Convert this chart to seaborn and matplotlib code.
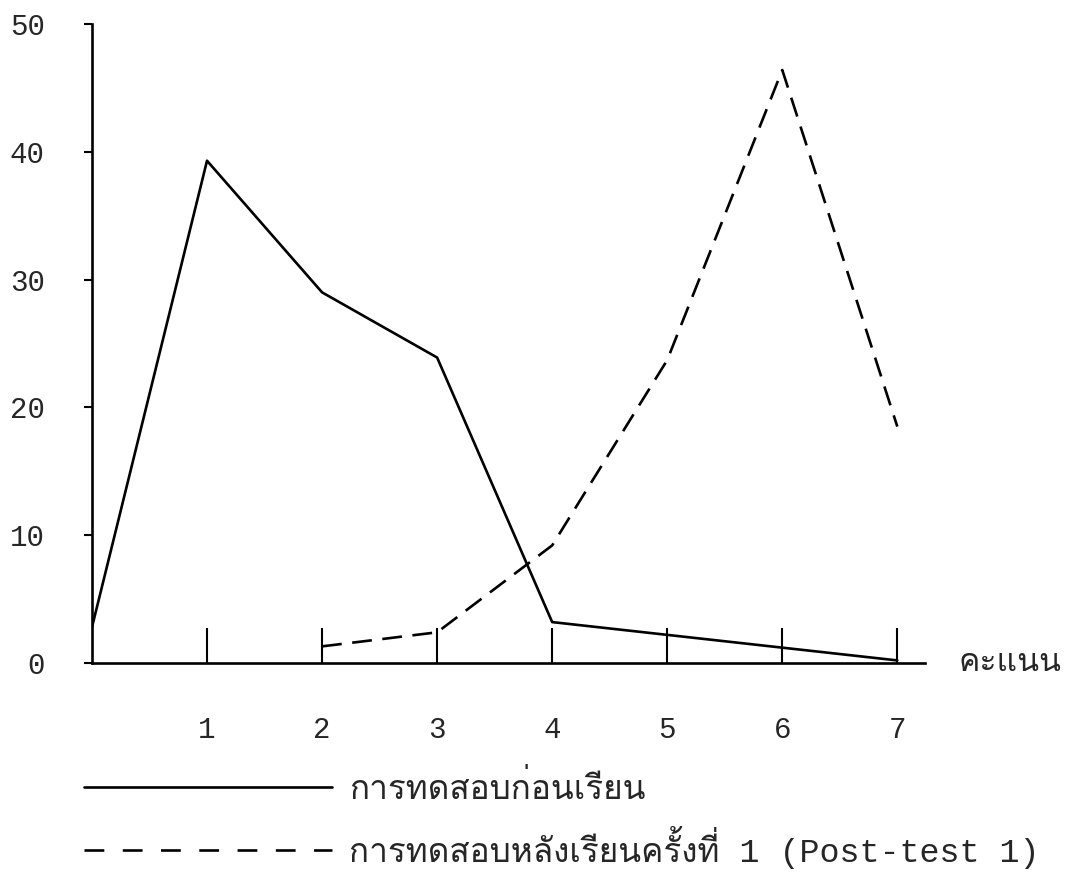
import matplotlib
matplotlib.use("Agg")
import matplotlib.pyplot as plt
from matplotlib.lines import Line2D
import pandas as pd
import seaborn as sns

# ---------------------------------------------------------------------
# Data
# ---------------------------------------------------------------------
scores = [0, 1, 2, 3, 4, 5, 6, 7]
pretest = [2.8, 39.3, 29.0, 23.9, 3.2, 2.2, 1.2, 0.2]

post_scores = [2, 3, 4, 5, 6, 7]
posttest1 = [1.3, 2.4, 9.2, 23.7, 46.4, 18.5]

pre_label = "การทดสอบก่อนเรียน"
post_label = "การทดสอบหลังเรียนครั้งที่ 1 (Post-test 1)"
x_label = "คะแนน"
x_ticks = [1, 2, 3, 4, 5, 6, 7]
y_ticks = [0, 10, 20, 30, 40, 50]

# ---------------------------------------------------------------------
# Style
# ---------------------------------------------------------------------
sns.set_style("white")
fam = ["Liberation Mono", "Tlwg Typo", "Tlwg Mono", "Loma", "DejaVu Sans"]
plt.rcParams["font.family"] = fam
FS = 21
LEG_FS = 24
LW = 1.9

pre_df = pd.DataFrame({"score": scores, "pct": pretest})
post_df = pd.DataFrame({"score": post_scores, "pct": posttest1})

fig = plt.figure(figsize=(10.72, 8.72), dpi=100)
ax = fig.add_axes([0.0858, 0.2397, 0.777, 0.7328])

sns.lineplot(data=pre_df, x="score", y="pct", ax=ax, color="black", lw=LW)
sns.lineplot(data=post_df, x="score", y="pct", ax=ax, color="black", lw=LW,
             linestyle=(0, (7.5, 4)))

ax.set_xlim(0, 7.24)
ax.set_ylim(0, 50)
ax.set_xticks(x_ticks)
ax.set_yticks(y_ticks)
ax.set_xlabel("")
ax.set_ylabel("")

for side in ["top", "right"]:
    ax.spines[side].set_visible(False)
for side in ["left", "bottom"]:
    ax.spines[side].set_color("black")
    ax.spines[side].set_linewidth(LW)

ax.tick_params(axis="x", bottom=True, direction="in", length=25, width=1.5,
               pad=38, labelsize=FS, color="black")
ax.tick_params(axis="y", left=True, direction="out", length=6, width=1.5,
               pad=28, labelsize=FS, color="black")

ax.text(1.04, 0.0, x_label, transform=ax.transAxes, fontsize=FS + 2,
        va="center", ha="left", family=fam)

handles = [
    Line2D([], [], color="black", lw=LW),
    Line2D([], [], color="black", lw=LW, linestyle=(0, (7.5, 7))),
]
fig.legend(handles, [pre_label, post_label], loc="lower left",
           bbox_to_anchor=(0.0505, -0.031), frameon=False,
           handlelength=7.45, handletextpad=0.5, labelspacing=0.6,
           prop={"family": fam, "size": LEG_FS})

fig.savefig("out.png", dpi=100)
